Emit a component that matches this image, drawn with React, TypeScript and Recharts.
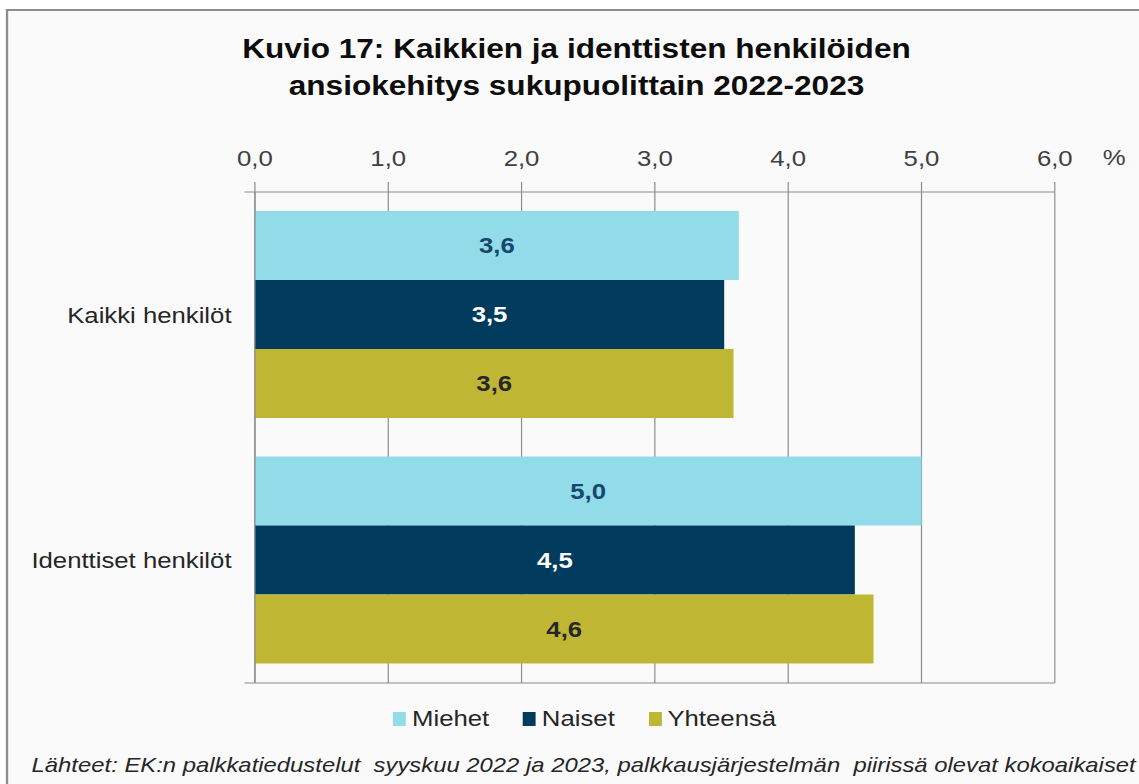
import { Bar, BarChart, CartesianGrid, LabelList, Legend, XAxis, YAxis } from "recharts";

// values (bar ends), labels show one decimal
const categories = ["Kaikki henkilöt", "Identtiset henkilöt"];
const miehet = [3.63, 5.0];
const naiset = [3.52, 4.5];
const yhteensa = [3.59, 4.64];
const xTicks = [0, 1, 2, 3, 4, 5, 6];
const frameTicks = [0, 1, 2];

const FONT = '"Liberation Sans", Arial, sans-serif';
const W = 974;
const H = 784;
// the source image is stretched horizontally
const STRETCH = 1139 / W;
const GRID = "#8a8a8a";
const CAT_AXIS = 1;

const data = categories.map((name, i) => ({
  name,
  miehet: miehet[i],
  naiset: naiset[i],
  yhteensa: yhteensa[i],
}));

const fmt = (v: number) => Number(v).toFixed(1).replace(".", ",");
const noText = () => <g />;

function barLabel(color: string) {
  return (props: any) => {
    const vb = props.viewBox ?? props;
    const { x, y, width, height } = vb;
    return (
      <text
        x={x + width / 2}
        y={y + height / 2}
        dy="0.36em"
        textAnchor="middle"
        fill={color}
        fontSize={22}
        fontWeight="bold"
        fontFamily={FONT}
      >
        {fmt(props.value)}
      </text>
    );
  };
}

function renderLegend(props: any) {
  const items = props.payload ?? [];
  return (
    <div
      style={{
        display: "flex",
        justifyContent: "center",
        gap: 29,
        paddingLeft: 26,
        fontFamily: FONT,
        fontSize: 22,
        lineHeight: "25px",
        color: "#262626",
      }}
    >
      {items.map((entry: any) => (
        <span key={entry.value} style={{ display: "flex", alignItems: "center" }}>
          <span
            style={{
              display: "inline-block",
              width: 11,
              height: 14,
              background: entry.color,
              marginRight: 5,
            }}
          />
          {entry.value}
        </span>
      ))}
    </div>
  );
}

export default function App() {
  return (
    <div
      style={{
        position: "absolute",
        left: 0,
        top: 0,
        width: W,
        height: H,
        overflow: "hidden",
        background: "#ffffff",
        transform: `scaleX(${STRETCH})`,
        transformOrigin: "0 0",
        fontFamily: FONT,
      }}
    >
      <div
        style={{
          position: "absolute",
          left: 5,
          top: 9,
          width: 1000,
          height: 800,
          borderTop: "2px solid #8c8c8c",
          borderLeft: "2px solid #8c8c8c",
          background: "#fafafa",
        }}
      />
      <div
        style={{
          position: "absolute",
          left: 0,
          top: 31,
          width: W,
          paddingLeft: 12,
          boxSizing: "border-box",
          textAlign: "center",
          fontSize: 27,
          fontWeight: "bold",
          lineHeight: "37px",
          color: "#0d0d0d",
        }}
      >
        Kuvio 17: Kaikkien ja identtisten henkilöiden
        <br />
        ansiokehitys sukupuolittain 2022-2023
      </div>
      <div
        style={{
          position: "absolute",
          left: 943,
          top: 145,
          fontSize: 22,
          lineHeight: "25px",
          color: "#404040",
        }}
      >
        %
      </div>
      <div style={{ position: "absolute", left: 0, top: 0 }}>
        <BarChart
          width={W}
          height={H}
          data={data}
          layout="vertical"
          margin={{ top: 152, right: 72, bottom: 100, left: 0 }}
          barCategoryGap={19}
          barGap={0}
        >
          <CartesianGrid stroke={GRID} horizontal={false} vertical={true} />
          <XAxis
            type="number"
            orientation="top"
            domain={[0, 6]}
            ticks={xTicks}
            interval={0}
            height={40}
            tickFormatter={fmt}
            tickSize={10}
            tickMargin={16}
            stroke={GRID}
            axisLine={{ stroke: GRID }}
            tickLine={{ stroke: GRID }}
            tick={{ fill: "#404040", fontSize: 22, fontFamily: FONT }}
          />
          {/* plain base line along the bottom of the plot */}
          <XAxis
            xAxisId="base"
            type="number"
            orientation="bottom"
            domain={[0, 6]}
            ticks={xTicks}
            interval={0}
            height={1}
            tick={noText}
            tickLine={false}
            axisLine={{ stroke: GRID }}
          />
          {/* frame axis: boundary tick marks between the two groups */}
          <YAxis
            yAxisId={0}
            type="number"
            domain={[0, 2]}
            ticks={frameTicks}
            interval={0}
            width={1}
            tick={noText}
            tickSize={9}
            axisLine={{ stroke: GRID }}
            tickLine={{ stroke: GRID }}
          />
          <YAxis
            yAxisId={CAT_AXIS}
            dataKey="name"
            type="category"
            width={217}
            tickLine={false}
            tickSize={0}
            tickMargin={19}
            axisLine={false}
            tick={{ fill: "#262626", fontSize: 22, fontFamily: FONT }}
          />
          <Legend
            layout="horizontal"
            verticalAlign="middle"
            align="center"
            wrapperStyle={{ top: 706, left: 0, width: W }}
            content={renderLegend}
          />
          <Bar yAxisId={CAT_AXIS} dataKey="miehet" name="Miehet" fill="#91dce8" isAnimationActive={false}>
            <LabelList dataKey="miehet" content={barLabel("#17466e")} />
          </Bar>
          <Bar yAxisId={CAT_AXIS} dataKey="naiset" name="Naiset" fill="#003a5c" isAnimationActive={false}>
            <LabelList dataKey="naiset" content={barLabel("#ffffff")} />
          </Bar>
          <Bar yAxisId={CAT_AXIS} dataKey="yhteensa" name="Yhteensä" fill="#bfb733" isAnimationActive={false}>
            <LabelList dataKey="yhteensa" content={barLabel("#262626")} />
          </Bar>
        </BarChart>
      </div>
      <div
        style={{
          position: "absolute",
          left: 27,
          top: 753,
          whiteSpace: "pre",
          fontSize: 20.4,
          fontStyle: "italic",
          lineHeight: "24px",
          color: "#262626",
        }}
      >
        {"Lähteet: EK:n palkkatiedustelut  syyskuu 2022 ja 2023, palkkausjärjestelmän  piirissä olevat kokoaikaiset"}
      </div>
    </div>
  );
}
